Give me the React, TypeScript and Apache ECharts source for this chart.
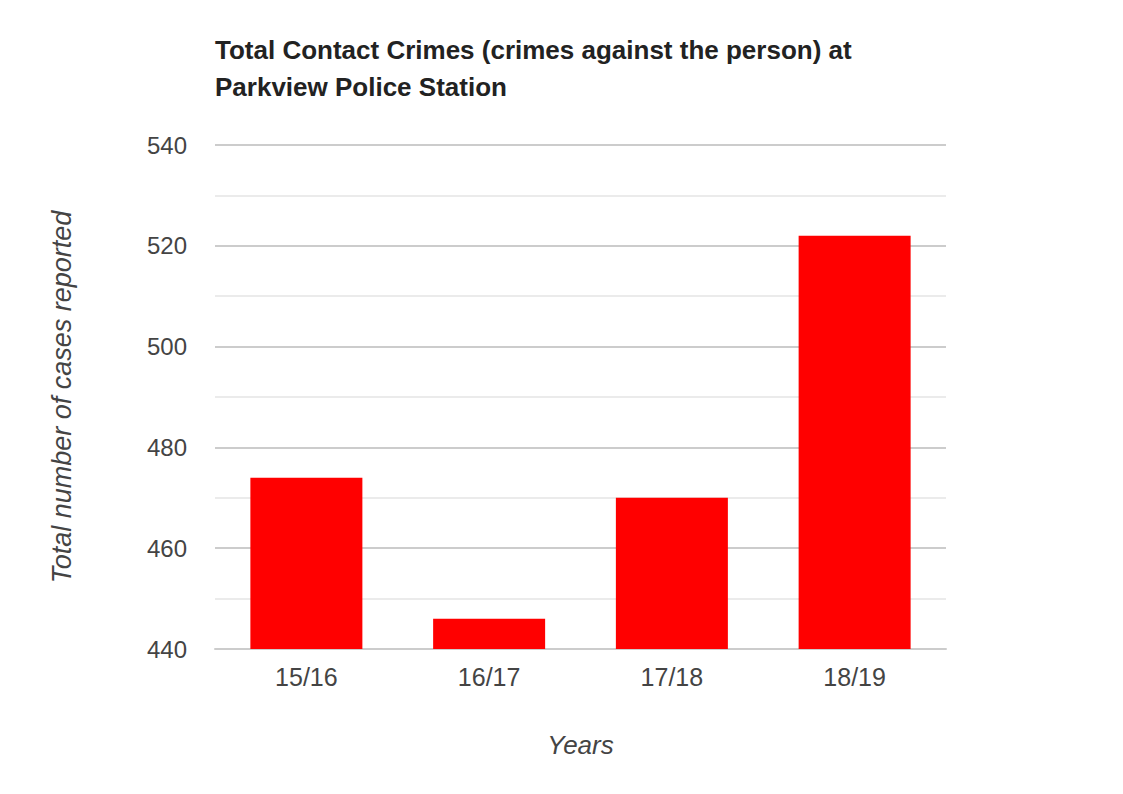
import React, { useEffect, useRef } from 'react';
import * as echarts from 'echarts';

// 报告年份与案件数
const years = ['15/16', '16/17', '17/18', '18/19'];
const cases = [474, 446, 470, 522];
const yTicks = [440, 460, 480, 500, 520, 540];

const App: React.FC = () => {
  const chartRef = useRef<HTMLDivElement>(null);

  useEffect(() => {
    document.body.style.margin = '0';
    const chart = echarts.init(chartRef.current!, undefined, { renderer: 'svg' });

    const option = {
      animation: false,
      backgroundColor: '#ffffff',
      textStyle: { fontFamily: 'Liberation Sans, Arial, sans-serif' },
      title: {
        text: 'Total Contact Crimes (crimes against the person) at\nParkview Police Station',
        left: 210,
        top: 26,
        textStyle: {
          fontSize: 26,
          fontWeight: 'bold',
          color: '#222222',
          lineHeight: 37,
        },
      },
      grid: { left: 215, right: 177, top: 145, bottom: 145 },
      xAxis: {
        type: 'category',
        data: years,
        name: 'Years',
        nameLocation: 'middle',
        nameGap: 83,
        nameTextStyle: { fontSize: 26, fontStyle: 'italic', color: '#444444' },
        axisLine: { lineStyle: { color: '#cccccc', width: 2 } },
        axisTick: { show: false },
        axisLabel: { fontSize: 25, color: '#444444', margin: 15 },
      },
      yAxis: {
        type: 'value',
        min: yTicks[0],
        max: yTicks[yTicks.length - 1],
        interval: 20,
        name: 'Total number of cases reported',
        nameLocation: 'middle',
        nameGap: 140,
        nameTextStyle: { fontSize: 27, fontStyle: 'italic', color: '#444444' },
        axisLine: { show: false },
        axisTick: { show: false },
        axisLabel: { fontSize: 24, color: '#444444', margin: 28 },
        splitLine: { lineStyle: { color: '#cccccc', width: 2 } },
        minorTick: { show: false, splitNumber: 2 },
        minorSplitLine: { show: true, lineStyle: { color: '#ebebeb', width: 2 } },
      },
      series: [
        {
          name: 'Cases',
          type: 'bar',
          data: cases,
          barWidth: 112,
          itemStyle: { color: '#ff0000' },
        },
      ],
    };

    chart.setOption(option);

    return () => {
      chart.dispose();
    };
  }, []);

  return <div ref={chartRef} style={{ width: '1123px', height: '794px' }} />;
};

export default App;
